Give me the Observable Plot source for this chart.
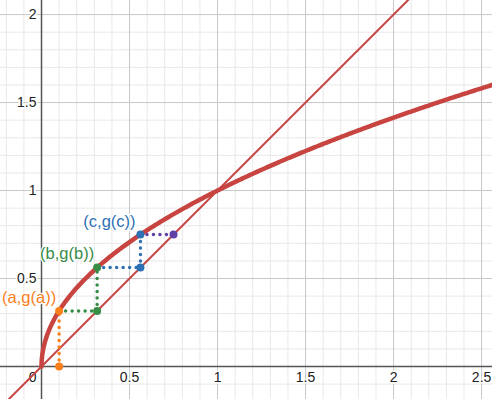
<!DOCTYPE html>
<html>
<head>
<meta charset="utf-8">
<script src="https://cdn.jsdelivr.net/npm/d3@7"></script>
<script src="https://cdn.jsdelivr.net/npm/@observablehq/plot@0.6"></script>
<style>
  html, body { margin: 0; padding: 0; background: #fff; }
  svg { display: block; }
</style>
</head>
<body>
<div id="chart"></div>
<script>
// Axis ticks (values)
const xMajor = [0.5, 1, 1.5, 2, 2.5];
const yMajor = [0.5, 1, 1.5, 2];
const xMinor = [-0.2, -0.1, 0.1, 0.2, 0.3, 0.4, 0.6, 0.7, 0.8, 0.9, 1.1, 1.2, 1.3, 1.4, 1.6, 1.7, 1.8, 1.9, 2.1, 2.2, 2.3, 2.4];
const yMinor = [-0.1, 0.1, 0.2, 0.3, 0.4, 0.6, 0.7, 0.8, 0.9, 1.1, 1.2, 1.3, 1.4, 1.6, 1.7, 1.8, 1.9];
const xTickLabels = ["0.5", "1", "1.5", "2", "2.5"];
const yTickLabels = ["0.5", "1", "1.5", "2"];

// Cobweb values (g(x) = sqrt(x))
const aVal = 0.1, gaVal = 0.316;
const bVal = 0.316, gbVal = 0.562;
const cVal = 0.562, gcVal = 0.75;

const pointLabels = ["(a,g(a))", "(b,g(b))", "(c,g(c))"];

// Function sample positions for y = sqrt(x) and y = x
const g = Math.sqrt;
const curveX = d3.range(0, 0.02, 0.0005).concat(d3.range(0.02, 2.7, 0.01));
const curve = curveX.map(x => ({x, y: g(x)}));
const diagX = [-0.3, 2.6];
const diag = diagX.map(x => ({x, y: x}));

const RED = "#c74440", ORANGE = "#fa7e19", GREEN = "#388c46", BLUE = "#2d70b3", PURPLE = "#6042a6";

const segs = [
  {x1: aVal, y1: 0, x2: aVal, y2: gaVal, c: ORANGE},
  {x1: aVal, y1: gaVal, x2: bVal, y2: gaVal, c: GREEN},
  {x1: bVal, y1: gaVal, x2: bVal, y2: gbVal, c: GREEN},
  {x1: bVal, y1: gbVal, x2: cVal, y2: gbVal, c: BLUE},
  {x1: cVal, y1: gbVal, x2: cVal, y2: gcVal, c: BLUE},
  {x1: cVal, y1: gcVal, x2: gcVal, y2: gcVal, c: PURPLE}
];
const pts = [
  {x: aVal, y: 0, c: ORANGE},
  {x: aVal, y: gaVal, c: ORANGE},
  {x: bVal, y: gaVal, c: GREEN},
  {x: bVal, y: gbVal, c: GREEN},
  {x: cVal, y: gbVal, c: BLUE},
  {x: cVal, y: gcVal, c: BLUE},
  {x: gcVal, y: gcVal, c: PURPLE}
];

const font = "'Liberation Sans', Arial, sans-serif";
const tickStyle = {fontSize: 14, fill: "#222", stroke: "white", strokeWidth: 3};
const labStyle = {fontSize: 16.5, stroke: "white", strokeWidth: 2.5};

const chart = Plot.plot({
  width: 492,
  height: 399,
  margin: 0,
  style: {fontFamily: font, background: "#fff"},
  x: {domain: [-0.233, 2.562], range: [0, 492], axis: null},
  y: {domain: [-0.1875, 2.08], range: [399, 0], axis: null},
  marks: [
    Plot.ruleX(xMinor, {stroke: "#e8e8e8", strokeWidth: 1}),
    Plot.ruleY(yMinor, {stroke: "#e8e8e8", strokeWidth: 1}),
    Plot.ruleX(xMajor, {stroke: "#c8c8c8", strokeWidth: 1}),
    Plot.ruleY(yMajor, {stroke: "#c8c8c8", strokeWidth: 1}),
    Plot.ruleX([0], {stroke: "#555", strokeWidth: 1.5}),
    Plot.ruleY([0], {stroke: "#555", strokeWidth: 1.5}),
    Plot.text(xMajor, {x: d => d, y: 0, text: (d, i) => xTickLabels[i], dy: 11, ...tickStyle}),
    Plot.text(yMajor, {x: 0, y: d => d, text: (d, i) => yTickLabels[i], dx: -5, textAnchor: "end", ...tickStyle}),
    Plot.text([0], {x: 0, y: 0, text: ["0"], dx: -5, dy: 11, textAnchor: "end", ...tickStyle}),
    Plot.line(diag, {x: "x", y: "y", stroke: RED, strokeWidth: 2, clip: true}),
    Plot.link(segs, {x1: "x1", y1: "y1", x2: "x2", y2: "y2", stroke: "c", strokeWidth: 3.5, strokeDasharray: "0,6.5", strokeLinecap: "round"}),
    Plot.line(curve, {x: "x", y: "y", stroke: RED, strokeWidth: 4.5, clip: true}),
    Plot.dot(pts, {x: "x", y: "y", fill: "c", r: 4, stroke: "none"}),
    Plot.text([0], {x: aVal, y: gaVal, text: [pointLabels[0]], fill: ORANGE, dx: -30, dy: -13, ...labStyle}),
    Plot.text([0], {x: bVal, y: gbVal, text: [pointLabels[1]], fill: GREEN, dx: -30, dy: -14, ...labStyle}),
    Plot.text([0], {x: cVal, y: gcVal, text: [pointLabels[2]], fill: BLUE, dx: -31, dy: -13, ...labStyle})
  ]
});
document.getElementById("chart").appendChild(chart);
</script>
</body>
</html>
